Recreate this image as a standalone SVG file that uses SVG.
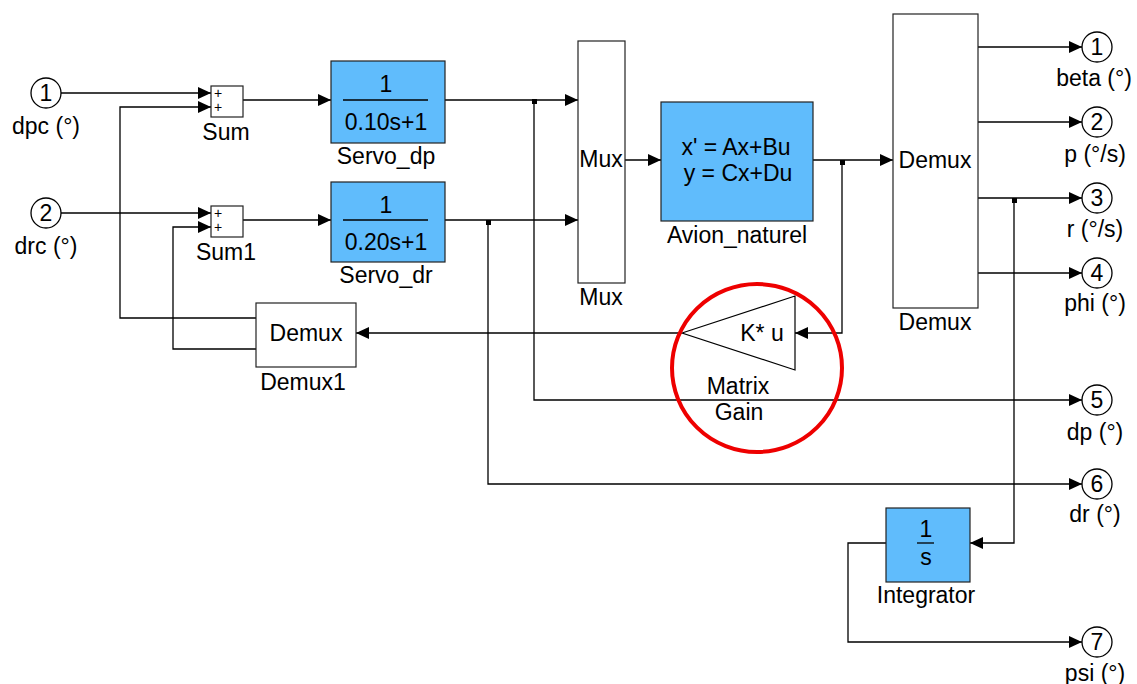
<svg xmlns="http://www.w3.org/2000/svg" width="1137" height="684" viewBox="0 0 1137 684">
<style>
text{font-family:"Liberation Sans",Arial,sans-serif;font-size:23px;fill:#000;text-anchor:middle}
.blk{fill:#fff;stroke:#222;stroke-width:1.2}
.blue{fill:#60BCFC;stroke:#222;stroke-width:1.2}
.port{fill:#fff;stroke:#000;stroke-width:1.3}
.ln{fill:none;stroke:#000;stroke-width:1.3}
.sm{font-size:14px}
.dot{fill:#000}
</style>
<defs>
<marker id="arr" markerUnits="userSpaceOnUse" markerWidth="13" markerHeight="12" refX="13" refY="6" orient="auto">
<path d="M0,0 L13,6 L0,12 z" fill="#000"/>
</marker>
</defs>
<rect width="1137" height="684" fill="#fff"/>
<g id="connectors">
<polyline class="ln" points="61,93 211,93" marker-end="url(#arr)"/>
<polyline class="ln" points="61,213 211,213" marker-end="url(#arr)"/>
<polyline class="ln" points="243,100 331,100" marker-end="url(#arr)"/>
<polyline class="ln" points="243,220 331,220" marker-end="url(#arr)"/>
<polyline class="ln" points="445,100 578,100" marker-end="url(#arr)"/>
<polyline class="ln" points="534,100 534,400 1082,400" marker-end="url(#arr)"/>
<rect class="dot" x="532" y="99" width="5" height="5"/>
<polyline class="ln" points="445,220 578,220" marker-end="url(#arr)"/>
<polyline class="ln" points="488,220 488,484 1082,484" marker-end="url(#arr)"/>
<rect class="dot" x="486" y="220" width="5" height="5"/>
<polyline class="ln" points="625,160 661,160" marker-end="url(#arr)"/>
<polyline class="ln" points="813,160 893,160" marker-end="url(#arr)"/>
<polyline class="ln" points="842,160 842,333 795,333" marker-end="url(#arr)"/>
<rect class="dot" x="840" y="160" width="5" height="5"/>
<polyline class="ln" points="682,333 356,333" marker-end="url(#arr)"/>
<polyline class="ln" points="256,318 120,318 120,107 211,107" marker-end="url(#arr)"/>
<polyline class="ln" points="256,349 173,349 173,227 211,227" marker-end="url(#arr)"/>
<polyline class="ln" points="978,47 1082,47" marker-end="url(#arr)"/>
<polyline class="ln" points="978,122 1082,122" marker-end="url(#arr)"/>
<polyline class="ln" points="978,198 1082,198" marker-end="url(#arr)"/>
<polyline class="ln" points="1014,198 1014,543 970,543" marker-end="url(#arr)"/>
<rect class="dot" x="1012" y="198" width="5" height="5"/>
<polyline class="ln" points="978,273 1082,273" marker-end="url(#arr)"/>
<polyline class="ln" points="886,543 848,543 848,642 1082,642" marker-end="url(#arr)"/>
</g>
<g id="in1">
<circle class="port" cx="46" cy="93" r="15"/>
<text x="46" y="101">1</text>
<text x="46" y="134">dpc (°)</text>
</g>
<g id="in2">
<circle class="port" cx="46" cy="213" r="15"/>
<text x="46" y="221">2</text>
<text x="46" y="254">drc (°)</text>
</g>
<g id="Sum">
<rect class="blk" x="211" y="86" width="32" height="31"/>
<text class="sm" x="218" y="98">+</text>
<text class="sm" x="218" y="112">+</text>
<text x="226" y="140">Sum</text>
</g>
<g id="Sum1">
<rect class="blk" x="211" y="206" width="32" height="31"/>
<text class="sm" x="218" y="218">+</text>
<text class="sm" x="218" y="232">+</text>
<text x="226" y="260">Sum1</text>
</g>
<g id="Servo_dp">
<rect class="blue" x="331" y="61" width="114" height="82"/>
<text x="386" y="92">1</text>
<line class="ln" x1="343" y1="100" x2="428" y2="100"/>
<text x="386" y="130">0.10s+1</text>
<text x="386" y="164">Servo_dp</text>
</g>
<g id="Servo_dr">
<rect class="blue" x="331" y="182" width="114" height="80"/>
<text x="386" y="213">1</text>
<line class="ln" x1="343" y1="220" x2="428" y2="220"/>
<text x="386" y="250">0.20s+1</text>
<text x="386" y="283">Servo_dr</text>
</g>
<g id="Mux">
<rect class="blk" x="578" y="41" width="47" height="242"/>
<text x="601" y="167">Mux</text>
<text x="601" y="305">Mux</text>
</g>
<g id="Avion_naturel">
<rect class="blue" x="661" y="102" width="152" height="119"/>
<text x="736" y="155">x' = Ax+Bu</text>
<text x="738" y="181">y = Cx+Du</text>
<text x="737" y="243">Avion_naturel</text>
</g>
<g id="Demux">
<rect class="blk" x="893" y="14" width="85" height="294"/>
<text x="935" y="168">Demux</text>
<text x="935" y="330">Demux</text>
</g>
<g id="Demux1">
<rect class="blk" x="256" y="303" width="100" height="64"/>
<text x="306" y="341">Demux</text>
<text x="303" y="390">Demux1</text>
</g>
<g id="MatrixGain">
<polygon points="682,333 795,296 795,370" fill="#fff" stroke="#000" stroke-width="1.2"/>
<text x="762" y="341">K* u</text>
<text x="738" y="394">Matrix</text>
<text x="739" y="420">Gain</text>
</g>
<g id="Integrator">
<rect class="blue" x="886" y="508" width="84" height="74"/>
<text x="926" y="537">1</text>
<line class="ln" x1="917" y1="543" x2="934" y2="543"/>
<text x="926" y="565">s</text>
<text x="926" y="603">Integrator</text>
</g>
<g id="out1">
<circle class="port" cx="1097" cy="47" r="15"/>
<text x="1097" y="55">1</text>
<text x="1094" y="86">beta (°)</text>
</g>
<g id="out2">
<circle class="port" cx="1097" cy="122" r="15"/>
<text x="1097" y="130">2</text>
<text x="1095" y="162">p (°/s)</text>
</g>
<g id="out3">
<circle class="port" cx="1097" cy="198" r="15"/>
<text x="1097" y="206">3</text>
<text x="1095" y="237">r (°/s)</text>
</g>
<g id="out4">
<circle class="port" cx="1097" cy="273" r="15"/>
<text x="1097" y="281">4</text>
<text x="1095" y="311">phi (°)</text>
</g>
<g id="out5">
<circle class="port" cx="1097" cy="400" r="15"/>
<text x="1097" y="408">5</text>
<text x="1095" y="440">dp (°)</text>
</g>
<g id="out6">
<circle class="port" cx="1097" cy="484" r="15"/>
<text x="1097" y="492">6</text>
<text x="1095" y="522">dr (°)</text>
</g>
<g id="out7">
<circle class="port" cx="1097" cy="642" r="15"/>
<text x="1097" y="650">7</text>
<text x="1095" y="681">psi (°)</text>
</g>
<g id="highlight">
<ellipse cx="757" cy="368" rx="85" ry="84" fill="none" stroke="#EE0000" stroke-width="4"/>
</g>
</svg>
